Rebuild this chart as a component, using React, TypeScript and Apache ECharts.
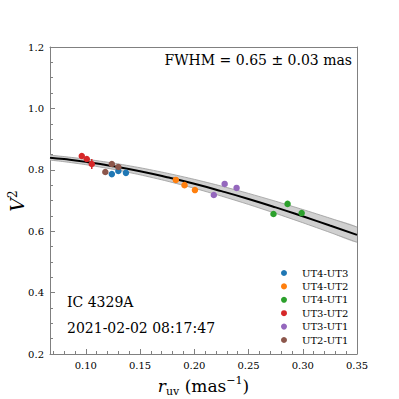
import React, { useEffect, useRef } from "react";
import * as echarts from "echarts";

const baselines = ["UT4-UT3", "UT4-UT2", "UT4-UT1", "UT3-UT2", "UT3-UT1", "UT2-UT1"];
const colors = ["#1f77b4", "#ff7f0e", "#2ca02c", "#d62728", "#9467bd", "#8c564b"];

// points per baseline: [r_uv, V2, err]
const ut43 = [[0.124, 0.786, 0.004], [0.130, 0.796, 0.004], [0.137, 0.790, 0.004]];
const ut42 = [[0.183, 0.767, 0.004], [0.191, 0.750, 0.004], [0.2006, 0.734, 0.004]];
const ut41 = [[0.273, 0.656, 0.004], [0.286, 0.689, 0.004], [0.299, 0.659, 0.004]];
const ut32 = [[0.0963, 0.845, 0.004], [0.1009, 0.835, 0.004], [0.1055, 0.819, 0.016]];
const ut31 = [[0.218, 0.718, 0.004], [0.228, 0.754, 0.004], [0.239, 0.741, 0.004]];
const ut21 = [[0.118, 0.793, 0.004], [0.124, 0.819, 0.004], [0.130, 0.809, 0.004]];
const groups = [ut43, ut42, ut41, ut32, ut31, ut21];

const modelR = [0.067, 0.08, 0.1, 0.125, 0.15, 0.175, 0.2, 0.225, 0.25, 0.275, 0.3, 0.325, 0.35];
const modelV2 = [0.8396, 0.8348, 0.8258, 0.8119, 0.7953, 0.7759, 0.7545, 0.7306, 0.7051, 0.6776, 0.6485, 0.6187, 0.588];
const bandUpper = [0.8475, 0.8431, 0.8348, 0.8221, 0.8068, 0.789, 0.769, 0.747, 0.7231, 0.6976, 0.6707, 0.6426, 0.6136];
const bandLower = [0.8316, 0.8264, 0.8167, 0.8017, 0.7837, 0.7631, 0.7399, 0.7144, 0.6871, 0.658, 0.6276, 0.5961, 0.564];

const xMajor = [0.1, 0.15, 0.2, 0.25, 0.3, 0.35];
const xMinor = [0.07, 0.08, 0.09, 0.1, 0.11, 0.12, 0.13, 0.14, 0.15, 0.16, 0.17, 0.18, 0.19, 0.2, 0.21, 0.22, 0.23, 0.24, 0.25, 0.26, 0.27, 0.28, 0.29, 0.3, 0.31, 0.32, 0.33, 0.34, 0.35];

const fwhmText = "FWHM = 0.65 ± 0.03 mas";
const targetText = "IC 4329A";
const dateText = "2021-02-02 08:17:47";

const SERIF = "DejaVu Serif";
const AX = "#808080";

export default function App() {
  const ref = useRef<HTMLDivElement>(null);
  useEffect(() => {
    document.body.style.margin = "0";
    const chart = echarts.init(ref.current!, null, { renderer: "svg" });
    const grid = { left: 50, top: 47, width: 307, height: 307, containLabel: false, outerBoundsMode: "none" };
    const series: any[] = [];
    series.push({
      type: "custom", name: "_band",
      data: modelR.map((r, i) => [r, bandUpper[i], bandLower[i]]),
      renderItem: (params: any, api: any) => {
        if (params.dataIndex !== 0) return null;
        const up = modelR.map((r, i) => api.coord([r, bandUpper[i]]));
        const lo = modelR.map((r, i) => api.coord([r, bandLower[i]])).reverse();
        return {
          type: "group",
          children: [
            { type: "polygon", shape: { points: up.concat(lo), smooth: 0.2 }, style: { fill: "#d0d0d0", stroke: "none" } },
            { type: "polyline", shape: { points: up, smooth: 0.2 }, style: { stroke: "#9a9a9a", lineWidth: 0.8, fill: "none" } },
            { type: "polyline", shape: { points: lo.slice().reverse(), smooth: 0.2 }, style: { stroke: "#9a9a9a", lineWidth: 0.8, fill: "none" } },
          ],
        };
      },
      clip: true, silent: true, z: 1,
    });
    series.push({
      type: "line", name: "_model", data: modelR.map((r, i) => [r, modelV2[i]]),
      symbol: "none", smooth: true, lineStyle: { color: "#000", width: 2 }, silent: true, z: 3,
    });
    groups.forEach((g, gi) => {
      series.push({
        type: "custom", name: baselines[gi] + "_err", data: g,
        renderItem: (params: any, api: any) => {
          const x = api.value(0), y = api.value(1), e = api.value(2);
          const p1 = api.coord([x, y - e]);
          const p2 = api.coord([x, y + e]);
          return {
            type: "line",
            shape: { x1: p1[0], y1: p1[1], x2: p2[0], y2: p2[1] },
            style: { stroke: colors[gi], lineWidth: 1.5 },
          };
        },
        z: 4, silent: true,
      });
      series.push({
        type: "scatter", name: baselines[gi], data: g.map((d) => [d[0], d[1]]),
        symbol: "circle", symbolSize: 6.5, itemStyle: { color: colors[gi], opacity: 1 }, z: 5,
      });
    });

    chart.setOption({
      animation: false,
      grid: [grid],
      legend: {
        data: baselines.map((b) => ({ name: b, icon: "circle" })),
        orient: "vertical", left: 276, top: 263, itemWidth: 26, itemHeight: 6,
        itemGap: 3.4, textStyle: { fontFamily: SERIF, fontSize: 10, color: "#000", lineHeight: 10 },
        selectedMode: false,
      },
      xAxis: [
        {
          type: "value", min: 0.067, max: 0.35, gridIndex: 0,
          axisLine: { show: true, onZero: false, lineStyle: { color: AX, width: 1 } },
          axisTick: { show: true, inside: true, length: 5, customValues: xMajor, lineStyle: { color: AX } },
          axisLabel: { customValues: xMajor, fontFamily: SERIF, fontSize: 10, color: "#000", margin: 6, formatter: (v: number) => v.toFixed(2) },
          splitLine: { show: false },
          name: "{r|r}{sub|uv}{n| (mas}{sup|−1}{n|)}",
          nameLocation: "middle", nameGap: 21,
          nameTextStyle: {
            rich: {
              r: { fontFamily: SERIF, fontStyle: "italic", fontSize: 17, lineHeight: 22, color: "#000" },
              sub: { fontFamily: SERIF, fontSize: 11, lineHeight: 9, verticalAlign: "bottom", color: "#000" },
              n: { fontFamily: SERIF, fontSize: 17, lineHeight: 22, color: "#000" },
              sup: { fontFamily: SERIF, fontSize: 11, lineHeight: 9, verticalAlign: "top", color: "#000" },
            },
          },
        },
        {
          type: "value", min: 0.067, max: 0.35, gridIndex: 0, position: "bottom",
          axisLine: { show: false },
          axisTick: { show: true, inside: true, length: 3, customValues: xMinor, lineStyle: { color: AX } },
          axisLabel: { show: false },
          splitLine: { show: false },
        },
        {
          type: "value", min: 0.067, max: 0.35, gridIndex: 0, position: "top",
          axisLine: { show: true, onZero: false, lineStyle: { color: AX } },
          axisTick: { show: false }, axisLabel: { show: false }, splitLine: { show: false },
        },
      ],
      yAxis: [
        {
          type: "value", min: 0.2, max: 1.2, interval: 0.2, gridIndex: 0,
          axisLine: { show: true, onZero: false, lineStyle: { color: AX } },
          axisTick: { show: true, inside: true, length: 5, lineStyle: { color: AX } },
          minorTick: { show: true, splitNumber: 4, length: 3, lineStyle: { color: AX } },
          axisLabel: { fontFamily: SERIF, fontSize: 10, color: "#000", margin: 6, formatter: (v: number) => v.toFixed(1) },
          splitLine: { show: false },
        },
        {
          type: "value", min: 0.2, max: 1.2, gridIndex: 0, position: "right",
          axisLine: { show: true, onZero: false, lineStyle: { color: AX } },
          axisTick: { show: false }, axisLabel: { show: false }, splitLine: { show: false },
        },
      ],
      graphic: [
        { type: "text", right: 47, top: 53, style: { text: fwhmText, fontFamily: SERIF, fontSize: 14, fill: "#000" } },
        { type: "text", left: 67, top: 295, style: { text: targetText, fontFamily: SERIF, fontSize: 14, fill: "#000" } },
        { type: "text", left: 67, top: 321, style: { text: dateText, fontFamily: SERIF, fontSize: 14, fill: "#000" } },
        {
          type: "text", x: 17, y: 201, rotation: Math.PI / 2,
          style: {
            text: "{v|V}{sup|2}", align: "center", verticalAlign: "middle",
            rich: {
              v: { fontFamily: SERIF, fontStyle: "italic", fontSize: 19, lineHeight: 20, fill: "#000" },
              sup: { fontFamily: SERIF, fontSize: 12, lineHeight: 8, verticalAlign: "top", fill: "#000" },
            },
          },
        },
      ],
      series,
    });
    return () => chart.dispose();
  }, []);
  return <div ref={ref} style={{ width: 399, height: 399 }} />;
}
